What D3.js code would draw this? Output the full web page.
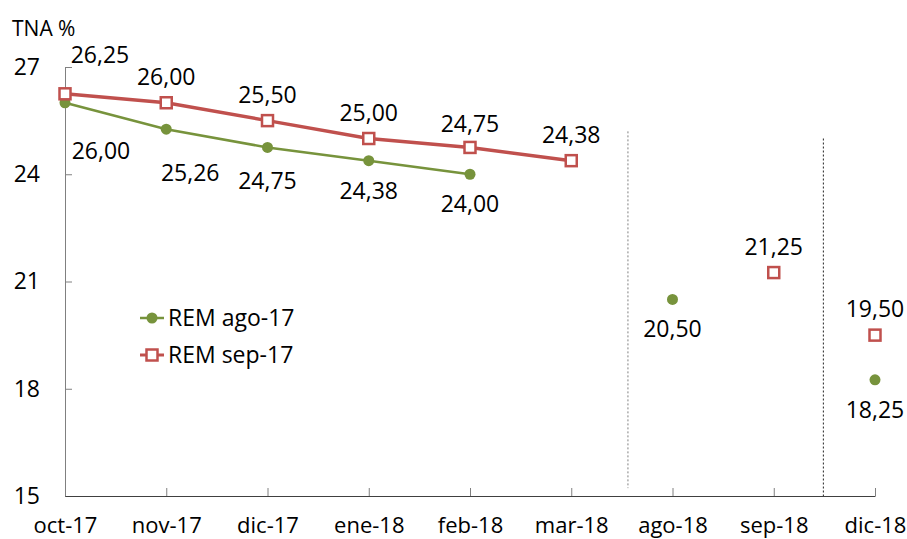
<!DOCTYPE html>
<html>
<head>
<meta charset="utf-8">
<script src="https://cdn.jsdelivr.net/npm/d3@7"></script>
<style>
  body { margin: 0; background: #fff; }
  text { font-family: "Open Sans", sans-serif; fill: #000; }
</style>
</head>
<body>
<script>
// categories and values
var categories = ["oct-17", "nov-17", "dic-17", "ene-18", "feb-18", "mar-18", "ago-18", "sep-18", "dic-18"];
var remAgo = [26.00, 25.26, 24.75, 24.38, 24.00, null, 20.50, null, 18.25];
var remSep = [26.25, 26.00, 25.50, 25.00, 24.75, 24.38, null, 21.25, 19.50];
var yTicks = [15, 18, 21, 24, 27];
var monthlyCount = 6; // first 6 categories are joined by a line

var width = 907, height = 539;

var svg = d3.select("body").append("svg")
    .attr("width", width)
    .attr("height", height);

var x = d3.scalePoint()
    .domain(categories)
    .range([65, 875]);

var y = d3.scaleLinear()
    .domain([15, 27])
    .range([496, 67]);

var fmt = function(v){ return d3.format(".2f")(v).replace(".", ","); };

// axes
var yAxis = d3.axisLeft(y)
    .tickValues(yTicks)
    .tickSizeInner(-7)
    .tickSizeOuter(0)
    .tickPadding(25);

var gy = svg.append("g")
    .attr("transform", "translate(65,0)")
    .call(yAxis);
gy.select(".domain").attr("stroke", "#808080");
gy.selectAll(".tick line").attr("stroke", "#808080");
gy.selectAll(".tick text").style("font-size", "23px").attr("font-family", null);

var xAxis = d3.axisBottom(x)
    .tickSizeInner(-8)
    .tickSizeOuter(0)
    .tickPadding(21);

var gx = svg.append("g")
    .attr("transform", "translate(0,496)")
    .call(xAxis);
gx.select(".domain").attr("stroke", "#404040");
gx.selectAll(".tick line").attr("stroke", "#808080");
gx.selectAll(".tick text").style("font-size", "22px").attr("font-family", null);

// y axis title
svg.append("text")
    .attr("x", 12)
    .attr("y", 36)
    .style("font-size", "21px")
    .text("TNA %");

// dashed separators between the groups of months
var step = x.step();
svg.append("line")
    .attr("x1", x("mar-18") + step * 0.56).attr("x2", x("mar-18") + step * 0.56)
    .attr("y1", y(25.2)).attr("y2", y(15.22))
    .attr("stroke", "#808080").attr("stroke-width", 1)
    .attr("stroke-dasharray", "2,2");
svg.append("line")
    .attr("x1", x("sep-18") + step * 0.49).attr("x2", x("sep-18") + step * 0.49)
    .attr("y1", y(25.0)).attr("y2", y(15))
    .attr("stroke", "#222").attr("stroke-width", 1)
    .attr("stroke-dasharray", "2,2");

var green = "#77933C", red = "#C0504D";

function points(vals){
    return vals.map(function(v, i){ return {cat: categories[i], v: v, i: i}; })
        .filter(function(d){ return d.v !== null; });
}

var line = d3.line()
    .x(function(d){ return x(d.cat); })
    .y(function(d){ return y(d.v); });

var agoPts = points(remAgo), sepPts = points(remSep);

svg.append("path")
    .datum(agoPts.filter(function(d){ return d.i < monthlyCount; }))
    .attr("d", line)
    .attr("fill", "none")
    .attr("stroke", green)
    .attr("stroke-width", 2.5);

svg.append("path")
    .datum(sepPts.filter(function(d){ return d.i < monthlyCount; }))
    .attr("d", line)
    .attr("fill", "none")
    .attr("stroke", red)
    .attr("stroke-width", 3.5);

svg.selectAll(".ago")
    .data(agoPts)
    .enter().append("circle")
    .attr("class", "ago")
    .attr("cx", function(d){ return x(d.cat); })
    .attr("cy", function(d){ return y(d.v); })
    .attr("r", 5.5)
    .attr("fill", green);

svg.selectAll(".sep")
    .data(sepPts)
    .enter().append("rect")
    .attr("class", "sep")
    .attr("x", function(d){ return x(d.cat) - 5.5; })
    .attr("y", function(d){ return y(d.v) - 5.5; })
    .attr("width", 11)
    .attr("height", 11)
    .attr("fill", "#fff")
    .attr("stroke", red)
    .attr("stroke-width", 2.5);

// data labels, green below and red above; a few were moved by hand in the original
var agoNudge = {"oct-17": [36, 18], "nov-17": [24, 14], "dic-17": [0, 4]};
var sepNudge = {"oct-17": [35, -13], "feb-18": [0, 3]};

svg.selectAll(".agoLbl")
    .data(agoPts)
    .enter().append("text")
    .attr("class", "agoLbl")
    .attr("text-anchor", "middle")
    .attr("x", function(d){ return x(d.cat) + (agoNudge[d.cat] ? agoNudge[d.cat][0] : 0); })
    .attr("y", function(d){ return y(d.v) + 38 + (agoNudge[d.cat] ? agoNudge[d.cat][1] : 0); })
    .style("font-size", "23px")
    .text(function(d){ return fmt(d.v); });

svg.selectAll(".sepLbl")
    .data(sepPts)
    .enter().append("text")
    .attr("class", "sepLbl")
    .attr("text-anchor", "middle")
    .attr("x", function(d){ return x(d.cat) + (sepNudge[d.cat] ? sepNudge[d.cat][0] : 0); })
    .attr("y", function(d){ return y(d.v) - 18 + (sepNudge[d.cat] ? sepNudge[d.cat][1] : 0); })
    .style("font-size", "23px")
    .text(function(d){ return fmt(d.v); });

// legend
var legend = svg.append("g").attr("transform", "translate(140,318)");
legend.append("line").attr("x1", 0).attr("x2", 24).attr("y1", 0).attr("y2", 0)
    .attr("stroke", green).attr("stroke-width", 2.5);
legend.append("circle").attr("cx", 12).attr("cy", 0).attr("r", 5.5).attr("fill", green);
legend.append("text").attr("x", 28).attr("y", 8).style("font-size", "23px").text("REM ago-17");

legend.append("line").attr("x1", 0).attr("x2", 24).attr("y1", 37).attr("y2", 37)
    .attr("stroke", red).attr("stroke-width", 3);
legend.append("rect").attr("x", 6.5).attr("y", 31.5).attr("width", 11).attr("height", 11)
    .attr("fill", "#fff").attr("stroke", red).attr("stroke-width", 2.5);
legend.append("text").attr("x", 28).attr("y", 45).style("font-size", "23px").text("REM sep-17");
</script>
</body>
</html>
